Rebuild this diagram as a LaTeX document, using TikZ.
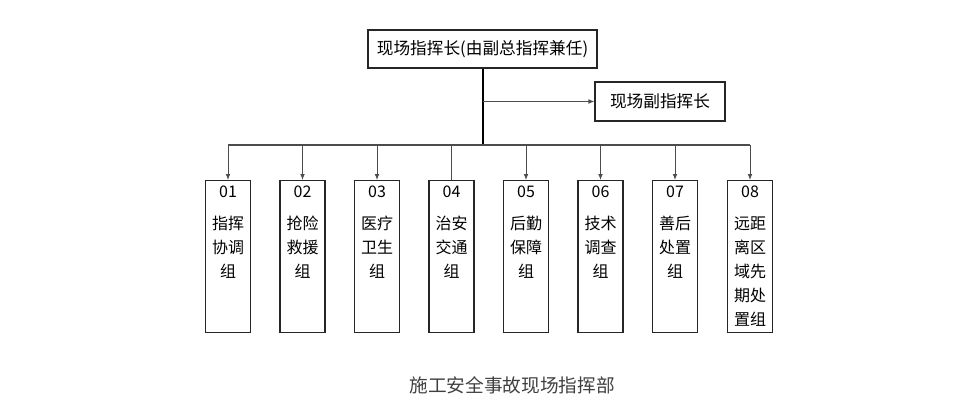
\documentclass[tikz,border=0pt]{standalone}
\usepackage{fontspec}
\setmainfont{Noto Sans CJK SC}
\usepackage{tikz}
\usetikzlibrary{arrows.meta}

\tikzset{
  boss/.style={draw=black!85, line width=0.8pt, inner sep=0pt, minimum width=171.75pt, minimum height=28.5pt, font=\fontsize{12.5}{15}\selectfont},
  grp/.style={draw=black!85, line width=0.8pt, inner sep=0pt, anchor=north, minimum width=33.75pt, minimum height=114pt},
  grptext/.style={anchor=north, inner sep=0pt, align=center, font=\fontsize{12}{18}\selectfont},
  link/.style={draw=black!70, line width=0.6pt},
  tip/.style={link, -{Latex[length=4.5pt,width=3.5pt]}}
}

\begin{document}
\begin{tikzpicture}[x=0.75pt,y=0.75pt,yscale=-1,xscale=1]
    \useasboundingbox (0,0) rectangle (967,400);

    % Head node
    \node [boss] (head) at (482.5,49) {现场指挥长(由副总指挥兼任)};
    % Deputy node
    \node [boss, minimum width=97.5pt, minimum height=29.25pt] (deputy) at (660,101.5) {现场副指挥长};

    % Group boxes
    \node [grp] (g1) at (228,180) {};
    \node [grp] (g2) at (302.5,180) {};
    \node [grp] (g3) at (377,180) {};
    \node [grp] (g4) at (451.5,180) {};
    \node [grp] (g5) at (526,180) {};
    \node [grp] (g6) at (600.5,180) {};
    \node [grp] (g7) at (675,180) {};
    \node [grp] (g8) at (750,180) {};

    % Text Node
    \node [grptext] (t1) at ([yshift=4pt]g1.north) {01\\[6pt]指挥\\协调\\组};
    \node [grptext] (t2) at ([yshift=4pt]g2.north) {02\\[6pt]抢险\\救援\\组};
    \node [grptext] (t3) at ([yshift=4pt]g3.north) {03\\[6pt]医疗\\卫生\\组};
    \node [grptext] (t4) at ([yshift=4pt]g4.north) {04\\[6pt]治安\\交通\\组};
    \node [grptext] (t5) at ([yshift=4pt]g5.north) {05\\[6pt]后勤\\保障\\组};
    \node [grptext] (t6) at ([yshift=4pt]g6.north) {06\\[6pt]技术\\调查\\组};
    \node [grptext] (t7) at ([yshift=4pt]g7.north) {07\\[6pt]善后\\处置\\组};
    \node [grptext] (t8) at ([yshift=4pt]g8.north) {08\\[6pt]远距\\离区\\域先\\期处\\置组};

    % Trunk and bus
    \coordinate (bus) at (482.5,145);
    \coordinate (fork) at (482.5,101.5);
    \draw [link, line width=1.5pt, draw=black] (head.south) -- (bus);
    \draw [tip] (fork) -- (deputy.west);
    \draw [link, line width=1pt] (g1.north |- bus) -- (g8.north |- bus);

    % Drops to the groups
    \draw [tip] (g1.north |- bus) -- (g1.north);
    \draw [tip] (g2.north |- bus) -- (g2.north);
    \draw [tip] (g3.north |- bus) -- (g3.north);
    \draw [link] (g4.north |- bus) -- (g4.north);
    \draw [tip] (g5.north |- bus) -- (g5.north);
    \draw [tip] (g6.north |- bus) -- (g6.north);
    \draw [tip] (g7.north |- bus) -- (g7.north);
    \draw [tip] (g8.north |- bus) -- (g8.north);

    % Caption
    \node [text=black!75, font=\fontsize{14}{16}\selectfont] (caption) at (512,385) {施工安全事故现场指挥部};

\end{tikzpicture}
\end{document}
